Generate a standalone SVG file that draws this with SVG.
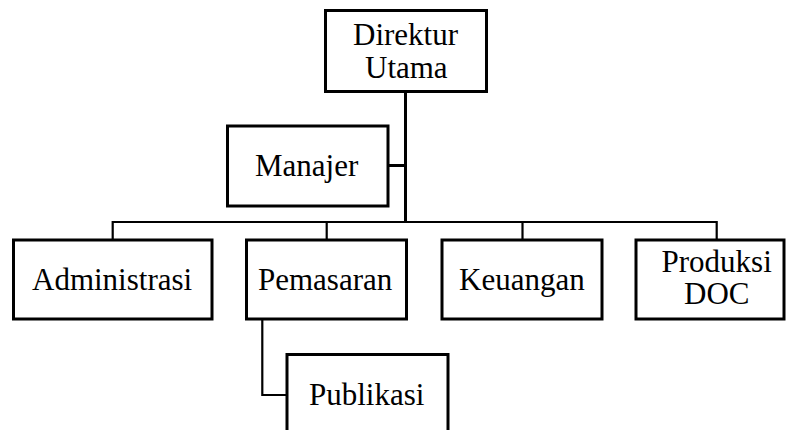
<svg xmlns="http://www.w3.org/2000/svg" width="786" height="430" viewBox="0 0 786 430">
<rect width="786" height="430" fill="#fff"/>
<g id="connectors" fill="none" stroke="#000">
<path stroke-width="3" d="M405.5 92 V222"/>
<path stroke-width="3" d="M388 165.5 H405.5"/>
<path stroke-width="2.2" d="M112.7 240 V222 H716.7 V240"/>
<path stroke-width="2.2" d="M326.7 222 V240"/>
<path stroke-width="2.2" d="M522.5 222 V240"/>
<path stroke-width="2.2" d="M262.3 320 V395 H287"/>
</g>
<g id="direktur"><rect fill="#fff" stroke="#000" stroke-width="3" x="325.5" y="10.5" width="161" height="81"/><text x="353" y="45" font-size="31" font-family="Liberation Serif">Direktur</text><text x="365" y="78" font-size="31" font-family="Liberation Serif">Utama</text></g>
<g id="manajer"><rect fill="#fff" stroke="#000" stroke-width="3" x="227.5" y="126" width="160.5" height="80"/><text x="255" y="176" font-size="31" font-family="Liberation Serif">Manajer</text></g>
<g id="administrasi"><rect fill="#fff" stroke="#000" stroke-width="3" x="13.5" y="240" width="198.5" height="79"/><text x="32" y="290" font-size="31" font-family="Liberation Serif">Administrasi</text></g>
<g id="pemasaran"><rect fill="#fff" stroke="#000" stroke-width="3" x="246.5" y="240" width="160" height="79"/><text x="258" y="290" font-size="31" font-family="Liberation Serif">Pemasaran</text></g>
<g id="keuangan"><rect fill="#fff" stroke="#000" stroke-width="3" x="442" y="240" width="160" height="79"/><text x="459" y="290" font-size="31" font-family="Liberation Serif">Keuangan</text></g>
<g id="produksi"><rect fill="#fff" stroke="#000" stroke-width="3" x="636" y="240" width="148" height="79"/><text x="661.5" y="272" font-size="31" font-family="Liberation Serif">Produksi</text><text x="684" y="304" font-size="31" font-family="Liberation Serif">DOC</text></g>
<g id="publikasi"><rect fill="#fff" stroke="#000" stroke-width="3" x="287" y="354.5" width="161" height="90"/><text x="309" y="405" font-size="31" font-family="Liberation Serif">Publikasi</text></g>
</svg>
